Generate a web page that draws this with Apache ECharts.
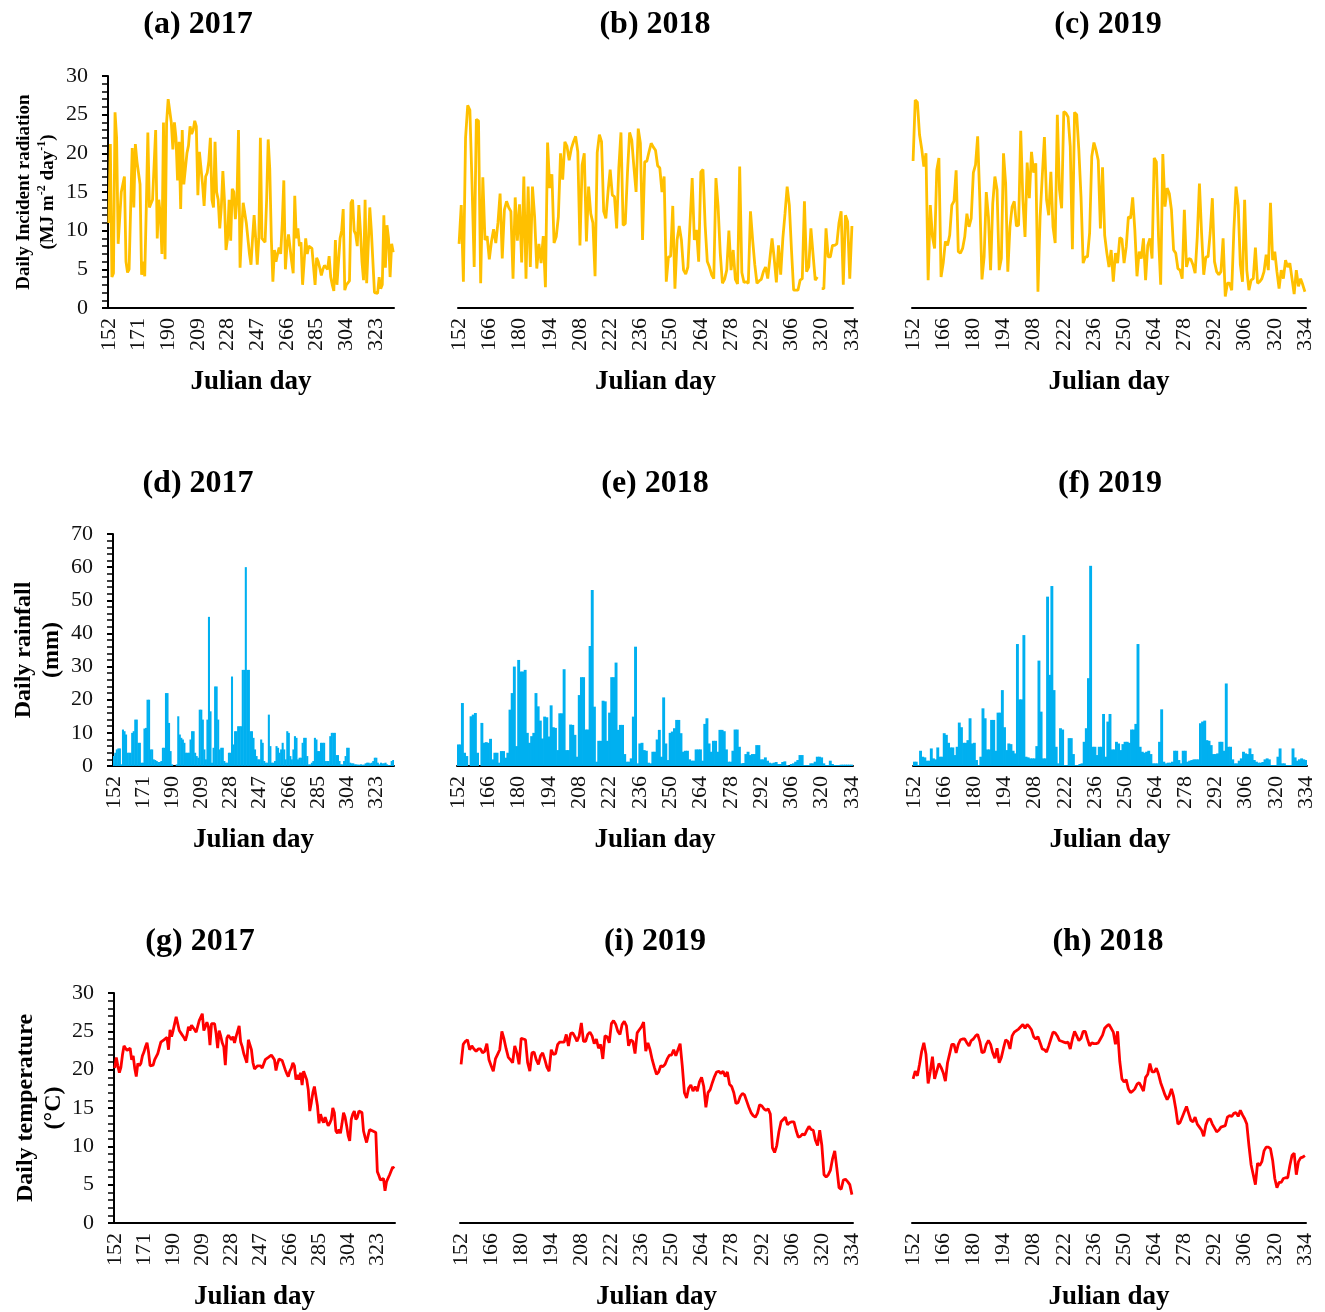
<!DOCTYPE html>
<html><head><meta charset="utf-8">
<script src="https://cdn.jsdelivr.net/npm/echarts@6/dist/echarts.min.js"></script>
<style>html,body{margin:0;padding:0;background:#fff}#c{width:1325px;height:1312px}</style>
</head><body><div id="c"></div>
<script>
// Julian day categories (152 .. 334)
const days = Array.from({length: 183}, (_, i) => String(152 + i));

// Daily incident radiation (MJ m-2 day-1)
const radiation2017 = [11,21.2,4,4.5,25.3,22,8.3,8.3,15,16,17,6,4.6,5,13,20.7,13,21.2,19,17.5,16,4.3,6,4.1,13,22.7,13,13.5,14,14,23,9,14,12,7,24,6.3,24,27,27,24,20.5,24,22,16.5,21.5,12.8,23,16,18,20,21,23.5,22.5,23,24.2,23.5,14.6,20.2,20,16,13.2,17,17.5,19,22,14,13,21.5,15,14,10.3,13,17.7,14,7.5,9,14,8.7,15.4,15,11.5,14,23,5.2,10,13.6,13.6,11,9,7,5.6,9,12,9,5.6,9,22,9,8.8,8.5,14,21.8,18,9,3.4,7.5,6,7,7.8,7,11,16.5,5,8,9.5,9.7,6,4.5,14.5,9,10.3,8,8.5,3,6,9,7,8,7.8,7.7,7.5,3,6.5,6,5.2,4.2,5,5.5,5.3,5,6.7,4,3,2.2,8.8,3,3.2,9,10,12.8,2.3,3,3.2,3.5,13.6,14,10,9.5,8,13.3,10,6,3.6,14,3.2,8,13,10,6,2,2.2,1.9,4,2.5,3,12,5.2,10.7,9,4,8.3,7.2];
const radiation2018 = [8.3,13.3,3.4,22,26.2,25.6,16,5.3,24.4,24.2,3.2,16.9,8.8,9.3,6.3,8.6,10.2,8.4,11,14.8,6.4,12.7,13.8,13,12.5,3.8,14.3,8.7,13.4,5.9,17,3.8,15.7,5.3,15.7,11.8,5.1,8.3,5.8,9.3,2.7,21.4,15.5,17.3,8.4,9.2,11.8,20,16.6,21.5,20.9,19.1,20.6,21.5,22.2,20.2,8.1,18.5,20,8.6,15.7,12.2,11,4.1,20.1,22.4,21.5,12.5,11.6,15,17.9,14.6,14.4,10.3,18.1,22.7,10.7,10.9,17.4,22.7,21.7,18.2,15,23.2,21.3,8.8,18.9,19,20.2,21.3,20.8,20.4,18.4,18.1,15,17,3.4,6.6,6.7,13.2,2.5,8.8,10.6,8.8,4.9,4.4,5.3,11,16.8,8.8,10.1,6,17.6,17.9,10.7,6,5.3,4.3,3.8,16.8,13.1,7.1,3.2,3.7,4.9,10,4.9,7.5,3.7,3.1,18.3,4.6,3.3,3.4,3.2,12.5,8.8,5.6,3.2,3.5,3.7,4.7,5.3,3.8,6.4,9,6.4,3.3,8.1,4.3,9,12.2,15.7,13.3,7.5,2.3,2.3,2.3,3.6,3.8,13.8,4.7,5.3,10.3,6.9,3.6,4,null,2.5,2.5,10.3,6.6,6.6,8.1,8.1,8.3,11,12.5,3,12,11.2,3.8,10.6];
const radiation2019 = [19,26.9,26.6,22.4,20.6,18.3,20,3.6,13.3,9.2,7.7,17.8,19.4,4,5.8,8.6,8.1,9.4,13.3,13.8,17.8,7.3,7.1,7.7,9.2,12.2,10.5,11.6,17.5,18.5,22.2,14,3.7,6.6,15,11.8,4.9,13.5,17,15.3,4.9,6.4,20,16.1,4.7,10.5,13.1,13.8,10.6,10.7,22.9,14,9.2,18.8,14.2,20.2,17.5,18.7,2.1,11.8,17,22.1,14,12,17.6,10.5,8.4,25,15.3,12.9,25.4,25.2,24.7,20.9,7.6,25.3,25,20.4,14.4,5.8,6.6,6.6,9.7,19.6,21.4,20.4,19.1,10.3,18.2,9.4,7.1,5.3,7.5,3.4,7.1,5.8,9.1,8.9,5.8,7.9,11.8,11.6,14.3,10.1,4.1,7.3,6.4,9,3.6,8.1,9,6.4,19.4,18.9,9.2,3,19.9,13.1,15.5,14.8,12.7,7.5,7.1,5.1,4.9,3.8,12.7,5.3,6.4,6.3,5.6,4.5,9.2,16.1,9.7,4.3,6.6,6.6,9.7,14.2,6,4.7,4.3,4.7,9,1.5,3.2,3.2,2.3,10.1,15.7,13.3,5.6,3.4,14,4.9,2.3,3.6,3.8,7.8,3.2,3.4,3.8,4.7,6.9,4.9,13.6,6.2,7.3,4.7,2.5,4.9,3.8,6.2,5.3,5.8,3.8,1.8,4.9,2.8,3.8,3,2.1];

// Daily rainfall (mm)
const rainfall2017 = [3,4,5,5.3,5.3,0.5,11,10.5,9.5,4,4,4,10,10.5,14,14,7,7,1,1,11.3,11.5,20,20,5,5,2,1.8,1.5,1.2,1.2,1.5,5.5,5.5,22,22,13,4.5,0.5,0,0,0.5,15,9.5,8.5,8,7,4,4,4,8,10.5,10.5,4,3,2.5,17,17,14,5,2,14,45,16.5,1,5.5,24,24,14,5,5.5,5.5,1.5,1,1,4,4,27,6.5,10.5,10.5,12,12,12,29,29,60,29,29,10.5,10.5,8.5,5,3,2,2,8,7,1.5,1,1,15.5,6,1,1,1.5,6,5.5,4,5,7,5,2,10.5,10,3,2,5,9,8.5,2,2.5,2.5,7,8.5,8.5,3,0.5,0.5,1,1.5,8.5,8,4.5,4.5,7,7,7,1.5,1.5,1.5,9,10,10,10,3.3,3.3,1.5,0.5,0.5,1.5,3,5.5,5.5,1,0.8,0.8,0.5,0.5,0.4,0.4,0.5,0.4,0.4,0.8,1,1,0.8,1,1.5,2.5,2.5,1,0.5,1,0.8,0.8,1,0.5,0.3,0.3,1.5,1.8];
const rainfall2018 = [6.5,6.5,19,4,3,0,15,15.5,16,4,0,13,7,7.2,7,8.2,2,4,4,1,4.5,4.5,2.5,4,17,22,30,6,32,28.5,28.5,29,10,7,9,10,22,18,13.7,8.3,14.9,14.7,8.9,18.3,11.7,11.5,4.8,15.9,15.9,29.2,4.8,4.8,12.5,12.4,9.4,2.8,21.4,26.8,26.8,11,11,36.2,53.1,17.9,1.3,7.6,7.6,19.7,19.5,7.6,16.1,26.8,26.8,31.2,10.9,12.4,12.4,3.6,1.3,1.3,2.3,14.9,36,0.8,6.8,7,4.8,4.6,1,0.8,4.3,4.3,8,10.9,2.8,20.7,6.8,1.8,10,10.4,11.4,13.9,13.9,9.9,4.3,4.6,4.6,2,1.6,1.6,5,5,5,1.6,12.7,14.4,6.8,4.3,7.6,7.6,4.3,10.9,10.9,10.5,5,1.3,1.3,4.6,11,11,5.8,0.8,0.9,3.6,4.3,3.3,3.6,3.6,6.3,6.3,2,2,2.6,1.6,1,0.8,1,1.2,0.6,0.6,1.2,1.4,0.3,0.1,0.6,0.8,1.3,1.8,3.3,3.3,0.3,0.3,0.3,0.8,0.8,1.3,2.8,2.8,2.6,0.8,0.3,0.3,1.6,0.6,0.3,0.3,0.3,0.4,0.4,0.4,0.4,0.4,0.4];
const rainfall2019 = [1.3,1.3,0.3,4.6,2.8,2.6,1.6,1.6,5.3,2.3,2,5.6,2.8,2.8,9.9,9.4,7,5.6,5.6,3.3,5.8,13.1,11.7,7,7,7.8,14.4,6.8,7,1.8,0.3,2.8,17.4,14.4,5,5,13.9,13.9,4.6,16.1,16.1,22.9,11.7,4.8,6.8,6.6,4.6,3.8,36.8,20.1,20.1,39.5,2.8,2.6,2.3,2.3,2.3,6,31.8,16.4,2.3,2.3,51.1,27.5,54.3,22.9,5.8,0.8,11.4,11,0.3,0.3,8.4,8.4,3.6,0.3,0.3,0.6,0.8,7.3,11.4,26.5,60.4,5.8,5.8,3.3,5.8,5.8,15.7,2.8,13.4,15.7,5,5,7.3,6.8,4.8,6.6,7.3,7.3,7,11,11,12.7,36.8,5.8,4.3,4,4.3,4.6,3.6,0.8,0.8,0.8,7.3,17.1,1.3,0.8,1,1,1.3,4.6,4.6,1.8,0.8,4.6,4.6,1.3,1.6,1.8,2,2,2,12.9,13.4,13.7,7.8,7.6,6.3,3.6,3.6,3.8,7.3,7.3,4.6,24.9,5.8,5.8,2,0.8,0.8,1.6,2.3,4.3,3.8,3.6,5.3,3.6,1.8,1.3,1,1,1.2,2,2.3,2,0.3,0.3,0.3,2.8,5.3,0.8,0.8,0.3,0.3,0.3,5.3,2.6,1.6,2,2.3,2,1.8];

// Daily temperature (°C)
const temperature2017 = [20.2,21.6,20.5,19.6,20.3,21.9,23.1,22.8,22.5,22.3,22.8,21.3,21.8,20.2,19.1,20.8,20.5,20.8,21.8,22.3,23,23.5,22.3,20.5,20.3,20.6,21.3,21.2,22.1,22.2,23.6,23.8,23.9,23.9,24.2,22.6,25.2,24.3,25.1,26,26.9,26.8,25.1,24.8,24.7,24.2,23.8,24.5,25.6,25.1,25.8,25.6,25.2,24.9,25.1,26.4,26.6,27.3,25.1,25.6,26.2,25.6,23.2,26,26.1,26,24.7,22.8,25.1,24.4,23.5,23,20.6,24.1,24.5,24.3,23.9,24.3,23.5,24.3,24.5,25.7,23.6,23,22.1,21.5,20.9,23.9,23.9,22.6,20.9,20.1,20.3,20.5,20.4,20.5,20.2,20,21.3,21.5,21.6,21.5,21.9,21.6,21.3,19.9,20.8,21.4,21.4,21.2,21.1,20,19.5,19.1,19.8,20.2,20.9,20.5,18.7,19.3,18.7,19.6,18,19.8,20,18.7,17.4,14.6,15.7,17,17.8,17.9,15.3,13,14.2,13.5,13.1,13.8,13.2,12.7,13,13.5,15,14.4,12,11.7,12.2,11.7,13,14.4,13.8,12.7,11.4,10.7,13.5,14.2,14.6,13.5,13.8,14.6,14.7,14.4,12,11.2,10.5,11.4,12.2,12,12,12,11.8,6.7,6.2,5.6,5.7,5.8,4.2,5.4,5.6,6.3,6.2,7.3,7.1];
const temperaturePanelI = [20.7,23.3,23.7,23.9,22.6,23.1,22.7,22.4,22.7,22.7,22.2,22.4,23.4,21.3,20.5,19.8,21.4,22,22.6,25,24,22.7,21.6,21.3,20.9,23.1,22.2,20.7,24.1,24,23.9,20.9,19.8,22.2,22.3,21.3,20.7,21.8,22.2,21.3,20.3,19.8,22.6,22,22.1,23.3,23.6,23.6,23.6,24.6,23.1,24.7,24.8,24.3,23.7,24.4,26.1,23.7,23.7,24.6,24.9,24.4,23.4,24,22.8,23.3,21.4,24.4,24.3,23.5,26,26.4,25.9,25,24.6,25.9,26.3,25.7,23.1,23.9,23.7,22.1,24.8,25.2,25.6,26.2,22.4,23.5,22.6,21.3,20.3,19.4,19.7,20.5,20.4,20.7,21.4,21.9,21.9,22.6,21.8,22.6,23.4,20.5,17,16.3,17.6,18,17.2,17.8,17.2,18.4,19,17.8,15.1,17,17.4,18.3,19.1,19.7,19.8,19.5,19.8,19.1,19.7,18.1,17.8,17,15.6,15.7,16.5,16.9,16.7,15.9,15.1,14.4,14,13.8,14.3,15.4,15.3,14.9,14.7,14.9,14.2,9.8,9.2,10.1,11.9,13.2,13.5,13.8,12.8,13.1,13.2,13.2,12.1,11.2,11.3,11.6,11.5,12.1,12.6,12.2,12.1,10.8,10.1,12.1,10.1,6.3,6,6.3,6.9,8.4,9.4,7.1,4.6,4.4,5.6,5.7,5.4,5,3.7];
const temperaturePanelH = [18.8,19.8,19.2,20.7,22.4,23.5,22,18.2,19.8,21.7,18.8,19.8,20.8,20.3,19.6,18.5,20.9,22.1,23.3,23.3,22.2,23.3,23.9,24,24,23.5,23.1,23.8,24,24.4,24.6,23.7,22.2,22.3,23.3,23.8,23.3,22.2,21.5,22.8,20.9,21.6,22.8,23.9,23.7,22.7,24.4,24.9,25.1,25.3,25.6,25.9,25.4,25.9,25.6,25.2,24.3,24,24.3,23.5,22.7,22.6,22.3,23.1,24,24.9,24.8,24.4,23.8,23.7,23.6,23.5,23.6,22.7,24,25,24.4,23.8,24.1,25,25,24,23.1,23.5,23.4,23.4,23.5,24,24.5,25.4,25.7,25.9,25.4,24.9,23.3,25,21.1,18.8,18.4,18.7,17.5,17,17.2,17.5,18.1,18.3,17.8,17.2,19,19.4,20.8,19.7,19.7,20.2,19.4,18.3,17.5,16.7,16.1,16.6,17.5,16.5,14.9,12.9,13.1,13.8,14.5,15.2,14.3,13.4,13.2,13.8,12.9,12.5,12.1,11.3,12.8,13.5,13.6,12.9,12.4,11.9,12.1,12.5,12.6,12.7,13.8,14,13.9,14.3,14.4,13.9,14.7,14.1,13.6,12.9,10.1,7.6,6.3,5,7.8,7.5,8,9.4,9.9,9.9,9.7,8.2,5.8,4.6,5.3,5.3,5.8,5.9,5.9,7.5,8.8,9.1,6.3,8,8.5,8.6,8.8];

const FONT = '"Liberation Serif","Times New Roman",serif';

const kinds = {
  rad:  {max: 30, interval: 5,  color: '#FFC000', type: 'line',
         name: 'Daily Incident radiation\n(MJ m{sup|-2} day{sup|-1})', fs: 19, lh: 24, gap: 48},
  rain: {max: 70, interval: 10, color: '#00B0F0', type: 'bar',
         name: 'Daily rainfall\n(mm)', fs: 24, lh: 28, gap: 47},
  temp: {max: 30, interval: 5,  color: '#FF0000', type: 'line',
         name: 'Daily temperature\n(°C)', fs: 24, lh: 28, gap: 46}
};

const panels = [
  {title: '(a) 2017', cx: 198,  cy: 25,  left: 108, top: 76,  width: 286, kind: 'rad',  data: radiation2017,   first: true, li: 18},
  {title: '(b) 2018', cx: 655,  cy: 25,  left: 458, top: 76,  width: 395, kind: 'rad',  data: radiation2018,   li: 13},
  {title: '(c) 2019', cx: 1108, cy: 25,  left: 912, top: 76,  width: 394, kind: 'rad',  data: radiation2019,   li: 13},
  {title: '(d) 2017', cx: 198,  cy: 484, left: 113, top: 534, width: 281, kind: 'rain', data: rainfall2017,    first: true, li: 18},
  {title: '(e) 2018', cx: 655,  cy: 484, left: 457, top: 534, width: 396, kind: 'rain', data: rainfall2018,    li: 13},
  {title: '(f) 2019', cx: 1110, cy: 484, left: 913, top: 534, width: 394, kind: 'rain', data: rainfall2019,    li: 13},
  {title: '(g) 2017', cx: 200,  cy: 942, left: 114, top: 993, width: 281, kind: 'temp', data: temperature2017, first: true, li: 18},
  {title: '(i) 2019', cx: 655,  cy: 942, left: 460, top: 993, width: 393, kind: 'temp', data: temperaturePanelI, li: 13},
  {title: '(h) 2018', cx: 1108, cy: 942, left: 912, top: 993, width: 394, kind: 'temp', data: temperaturePanelH, li: 13}
];

const grids = [], xAxes = [], yAxes = [], series = [], graphics = [];
panels.forEach((p, i) => {
  const k = kinds[p.kind];
  grids.push({left: p.left, top: p.top, width: p.width, height: 232});
  graphics.push({type: 'text', x: p.cx, y: p.cy,
    style: {text: p.title, fontFamily: FONT, fontWeight: 'bold', fontSize: 32, fill: '#000',
            align: 'center', verticalAlign: 'middle'}});
  xAxes.push({
    type: 'category', gridIndex: i, data: days, boundaryGap: true,
    name: 'Julian day', nameLocation: 'middle', nameGap: 61,
    nameTextStyle: {fontFamily: FONT, fontWeight: 'bold', fontSize: 27, color: '#000'},
    axisLine: {lineStyle: {color: '#000', width: 2}},
    axisTick: {interval: 4, length: 6, lineStyle: {color: '#000', width: 2}},
    axisLabel: {interval: p.li, rotate: 90, fontFamily: FONT, fontSize: 22, color: '#111', margin: 10},
    splitLine: {show: false}
  });
  yAxes.push({
    type: 'value', gridIndex: i, min: 0, max: k.max, interval: k.interval,
    show: !!p.first,
    name: p.first ? k.name : '', nameLocation: 'middle', nameRotate: 90, nameGap: k.gap,
    nameTextStyle: {fontFamily: FONT, fontWeight: 'bold', fontSize: k.fs, color: '#000', lineHeight: k.lh,
      rich: {sup: {fontFamily: FONT, fontWeight: 'bold', fontSize: 12, color: '#000', verticalAlign: 'top', lineHeight: 14}}},
    axisLine: {show: true, lineStyle: {color: '#000', width: 2}},
    axisTick: {show: true, length: 6, lineStyle: {color: '#000', width: 2}},
    minorTick: {show: true, splitNumber: 5, length: 6, lineStyle: {color: '#000', width: 1.5}},
    axisLabel: {fontFamily: FONT, fontSize: 22, color: '#111', margin: 20},
    splitLine: {show: false}
  });
  if (k.type === 'line') {
    series.push({type: 'line', xAxisIndex: i, yAxisIndex: i, data: p.data, symbol: 'none',
      connectNulls: false, lineStyle: {color: k.color, width: 2.8}, itemStyle: {color: k.color}});
  } else {
    series.push({type: 'bar', xAxisIndex: i, yAxisIndex: i, data: p.data, barWidth: '135%',
      itemStyle: {color: k.color}});
  }
});

const chart = echarts.init(document.getElementById('c'), null, {renderer: 'canvas'});
chart.setOption({
  animation: false,
  backgroundColor: '#fff',
  grid: grids, xAxis: xAxes, yAxis: yAxes, series: series,
  graphic: graphics
});
</script>
</body></html>
